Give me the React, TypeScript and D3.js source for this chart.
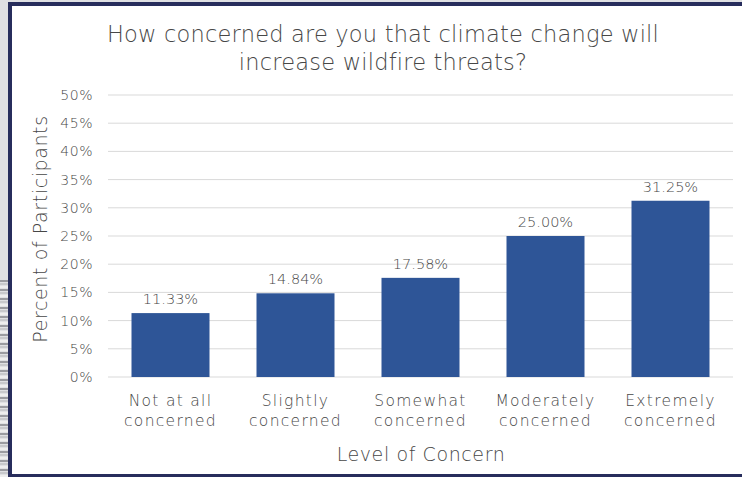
import React from "react";
import * as d3 from "d3";

const categories = [
  ["Not at all", "concerned"],
  ["Slightly", "concerned"],
  ["Somewhat", "concerned"],
  ["Moderately", "concerned"],
  ["Extremely", "concerned"],
];
const values = [11.33, 14.84, 17.58, 25.0, 31.25];
const yTicks = [0, 5, 10, 15, 20, 25, 30, 35, 40, 45, 50];
const titleLines = [
  "How concerned are you that climate change will",
  "increase wildfire threats?",
];

const W = 742;
const H = 477;
const FONT = "'DejaVu Sans', sans-serif";
const TEXT = "#474747";
const BAR = "#2e5597";
const FRAME = "#272d5c";

export default function App() {
  const x = d3
    .scaleBand<number>()
    .domain(d3.range(values.length))
    .range([108, 733])
    .paddingInner(0.376)
    .paddingOuter(0.188);
  const y = d3.scaleLinear().domain([0, 50]).range([377, 95]);

  // Striped backdrop at the lower left outside the frame
  const stripes = d3.range(280, H, 3);

  const textProps = {
    fontFamily: FONT,
    fill: TEXT,
    fontWeight: 200 as const,
  };

  return (
    <svg
      width={W}
      height={H}
      style={{ position: "absolute", left: 0, top: 0, display: "block" }}
    >
      <rect x={0} y={0} width={W} height={H} fill="#dfe0e3" />
      {stripes.map((s, i) => (
        <rect
          key={i}
          x={0}
          y={s}
          width={9}
          height={2}
          fill={i % 3 === 0 ? "#9a9ba0" : i % 3 === 1 ? "#c8c9cc" : "#eeeeee"}
        />
      ))}
      {/* Frame */}
      <rect x={8} y={2} width={W} height={H} fill={FRAME} />
      <rect x={12} y={6} width={W} height={H - 6 - 3} fill="#ffffff" />

      {/* Title */}
      {titleLines.map((t, i) => (
        <text
          key={i}
          x={383}
          y={41.5 + i * 28.5}
          textAnchor="middle"
          fontSize={22.5}
          letterSpacing={0.2}
          {...textProps}
        >
          {t}
        </text>
      ))}

      {/* Gridlines and y ticks */}
      {yTicks.map((t) => (
        <g key={t}>
          <line
            x1={108}
            x2={733}
            y1={y(t)}
            y2={y(t)}
            stroke="#d9d9d9"
            strokeWidth={1}
          />
          <text
            x={93}
            y={y(t) + 5}
            textAnchor="end"
            fontSize={14}
            letterSpacing={0.5}
            {...textProps}
          >
            {t}%
          </text>
        </g>
      ))}

      {/* Bars */}
      {values.map((v, i) => (
        <g key={i}>
          <rect
            x={x(i)!}
            y={y(v)}
            width={x.bandwidth()}
            height={y(0) - y(v)}
            fill={BAR}
          />
          <text
            x={x(i)! + x.bandwidth() / 2}
            y={y(v) - 9}
            textAnchor="middle"
            fontSize={14.5}
            {...textProps}
          >
            {v.toFixed(2)}%
          </text>
          {categories[i].map((line, j) => (
            <text
              key={j}
              x={x(i)! + x.bandwidth() / 2}
              y={405.5 + j * 20}
              textAnchor="middle"
              fontSize={15.5}
              letterSpacing={1.3}
              {...textProps}
            >
              {line}
            </text>
          ))}
        </g>
      ))}

      {/* Axis titles */}
      <text
        x={421}
        y={461}
        textAnchor="middle"
        fontSize={19}
        letterSpacing={0.6}
        {...textProps}
      >
        Level of Concern
      </text>
      <text
        transform={`translate(47, 229) rotate(-90)`}
        textAnchor="middle"
        fontSize={19}
        letterSpacing={0.6}
        {...textProps}
      >
        Percent of Participants
      </text>
    </svg>
  );
}
